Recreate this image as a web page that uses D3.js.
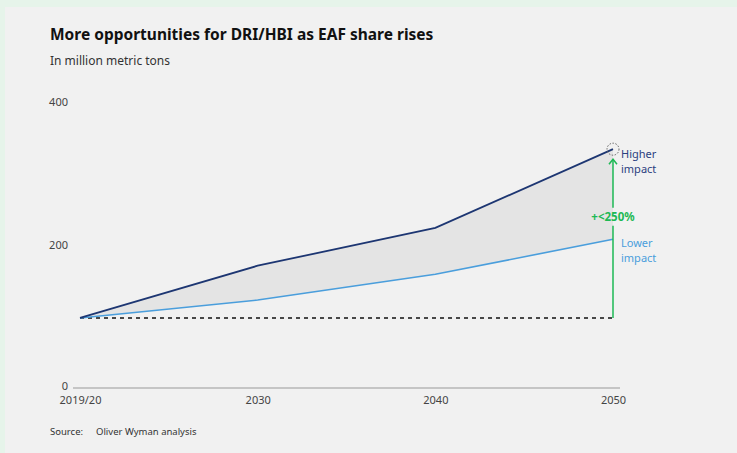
<!DOCTYPE html>
<html>
<head>
<meta charset="utf-8">
<script src="https://cdn.jsdelivr.net/npm/d3@7"></script>
<style>
  html, body { margin: 0; padding: 0; background: #e6f4ea; }
  svg { display: block; }
</style>
</head>
<body>
<svg id="chart" width="737" height="453"></svg>
<script>
// Data, in million metric tons
const years = [2020, 2030, 2040, 2050];
const yearLabels = ["2019/20", "2030", "2040", "2050"];
const higherImpact = [98, 171, 224, 334];
const lowerImpact = [98, 123, 159, 208];
const baseline = 98;
const yTicks = [0, 200, 400];
const growthLabel = "+<250%";

const svg = d3.select("#chart");
const font = "'Noto Sans', 'Open Sans', sans-serif";

// card background
svg.append("rect").attr("x", 5).attr("y", 7).attr("width", 732).attr("height", 446).attr("fill", "#f1f1f1");

const x = d3.scaleLinear().domain([2020, 2050]).range([80, 613]);
const y = d3.scaleLinear().domain([0, 400]).range([388, 102]);

// title and subtitle
svg.append("text").attr("x", 50).attr("y", 40).text("More opportunities for DRI/HBI as EAF share rises")
  .attr("font-family", font).attr("font-weight", 700).attr("font-size", 15.5).attr("fill", "#111");
svg.append("text").attr("x", 50).attr("y", 65).text("In million metric tons")
  .attr("font-family", font).attr("font-size", 12).attr("fill", "#333");

// y tick labels
svg.append("g").selectAll("text").data(yTicks).join("text")
  .attr("x", 68).attr("y", d => y(d) - (d === 0 ? 2 : 0)).attr("dy", "0.35em").attr("text-anchor", "end")
  .attr("font-family", font).attr("font-size", 11).attr("fill", "#444").text(d => d);

// x axis
const xAxis = d3.axisBottom(x).tickValues(years).tickFormat((d, i) => yearLabels[i]).tickSize(0).tickPadding(8);
const gx = svg.append("g").attr("transform", `translate(0,${y(0)})`).call(xAxis);
gx.select(".domain").remove();
gx.selectAll("text").attr("font-family", font).attr("font-size", 11).attr("fill", "#444");
svg.append("line").attr("x1", 73).attr("x2", 620).attr("y1", y(0)).attr("y2", y(0))
  .attr("stroke", "#999").attr("stroke-width", 1.2);

// shaded band between scenarios
const rows = years.map((yr, i) => ({ yr, hi: higherImpact[i], lo: lowerImpact[i] }));
svg.append("path").datum(rows)
  .attr("d", d3.area().x(d => x(d.yr)).y0(d => y(d.lo)).y1(d => y(d.hi)))
  .attr("fill", "#e4e4e4");

// baseline (dashed)
svg.append("line").attr("x1", x(2020)).attr("x2", x(2050)).attr("y1", y(baseline)).attr("y2", y(baseline))
  .attr("stroke", "#111").attr("stroke-width", 1.5).attr("stroke-dasharray", "4,4");

// scenario lines
const line = d3.line().x(d => x(d[0])).y(d => y(d[1]));
svg.append("path").datum(years.map((yr, i) => [yr, lowerImpact[i]]))
  .attr("d", line).attr("fill", "none").attr("stroke", "#4a9edc").attr("stroke-width", 1.6);
svg.append("path").datum(years.map((yr, i) => [yr, higherImpact[i]]))
  .attr("d", line).attr("fill", "none").attr("stroke", "#1d3672").attr("stroke-width", 1.8);

// growth arrow
const ax = x(2050);
const green = "#1db954";
const labelY = y(baseline) + (y(higherImpact[3]) - y(baseline)) * 0.6;
svg.append("line").attr("x1", ax).attr("x2", ax).attr("y1", y(baseline)).attr("y2", labelY + 9)
  .attr("stroke", green).attr("stroke-width", 1.5);
svg.append("line").attr("x1", ax).attr("x2", ax).attr("y1", labelY - 9).attr("y2", y(higherImpact[3]) + 10)
  .attr("stroke", green).attr("stroke-width", 1.5);
svg.append("path")
  .attr("d", `M${ax - 4},${y(higherImpact[3]) + 15} L${ax},${y(higherImpact[3]) + 10} L${ax + 4},${y(higherImpact[3]) + 15}`)
  .attr("fill", "none").attr("stroke", green).attr("stroke-width", 1.5);
svg.append("text").attr("x", ax).attr("y", labelY).attr("dy", "0.35em").attr("text-anchor", "middle")
  .attr("font-family", font).attr("font-weight", 700).attr("font-size", 11.5).attr("fill", green).text(growthLabel);

// end-point marker
svg.append("circle").attr("cx", ax).attr("cy", y(higherImpact[3])).attr("r", 6)
  .attr("fill", "none").attr("stroke", "#555").attr("stroke-width", 0.9).attr("stroke-dasharray", "1.5,1.5");

// scenario labels
function twoLine(lines, yy, color) {
  const t = svg.append("text").attr("x", 621).attr("y", yy)
    .attr("font-family", font).attr("font-size", 11).attr("fill", color);
  lines.forEach((s, i) => t.append("tspan").attr("x", 621).attr("dy", i ? 15 : 0).text(s));
}
twoLine(["Higher", "impact"], y(higherImpact[3]) + 9, "#2b4080");
twoLine(["Lower", "impact"], y(lowerImpact[3]) + 8, "#4a9edc");

// source
svg.append("text").attr("x", 50).attr("y", 435).attr("font-family", font).attr("font-size", 9.5).attr("fill", "#333").text("Source:");
svg.append("text").attr("x", 96).attr("y", 435).attr("font-family", font).attr("font-size", 9.5).attr("fill", "#333").text("Oliver Wyman analysis");
</script>
</body>
</html>
